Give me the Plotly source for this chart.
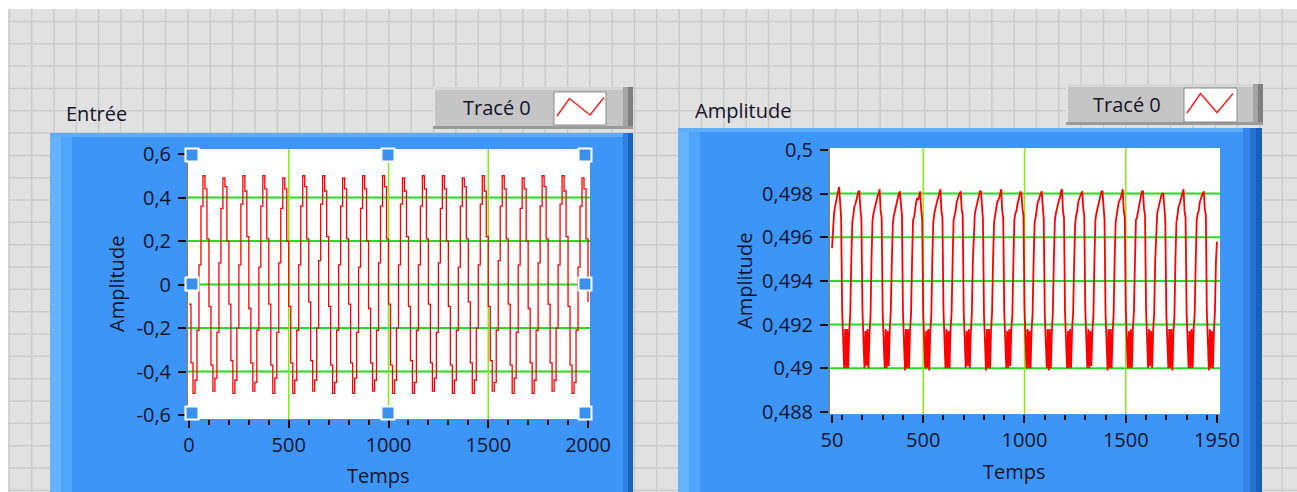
import plotly.graph_objects as go

# ---------------- DATA ----------------
# Left graph "Entrée": waveform samples (start, interval, values)
ENTREE_T0 = 0
ENTREE_DT = 10
entree_values = [
    -0.09, -0.36, -0.50, -0.44, -0.21, 0.09, 0.36, 0.50, 0.44, 0.21,
    -0.10, -0.37, -0.49, -0.43, -0.22, 0.10, 0.35, 0.49, 0.45, 0.20,
    -0.09, -0.35, -0.50, -0.44, -0.20, 0.09, 0.37, 0.50, 0.43, 0.22,
    -0.11, -0.36, -0.49, -0.45, -0.21, 0.08, 0.36, 0.50, 0.44, 0.21,
    -0.09, -0.37, -0.50, -0.43, -0.22, 0.10, 0.35, 0.49, 0.44, 0.20,
    -0.10, -0.36, -0.50, -0.44, -0.21, 0.09, 0.36, 0.50, 0.45, 0.21,
    -0.08, -0.35, -0.49, -0.44, -0.20, 0.11, 0.37, 0.50, 0.43, 0.22,
    -0.10, -0.37, -0.50, -0.45, -0.21, 0.09, 0.36, 0.49, 0.44, 0.21,
    -0.09, -0.36, -0.50, -0.43, -0.22, 0.08, 0.35, 0.50, 0.44, 0.20,
    -0.11, -0.36, -0.49, -0.44, -0.21, 0.10, 0.36, 0.50, 0.45, 0.21,
    -0.09, -0.37, -0.50, -0.44, -0.20, 0.09, 0.37, 0.49, 0.43, 0.22,
    -0.10, -0.35, -0.50, -0.45, -0.21, 0.09, 0.36, 0.50, 0.44, 0.21,
    -0.09, -0.36, -0.49, -0.43, -0.22, 0.10, 0.35, 0.50, 0.44, 0.20,
    -0.10, -0.37, -0.50, -0.44, -0.21, 0.08, 0.36, 0.49, 0.45, 0.21,
    -0.08, -0.36, -0.50, -0.44, -0.20, 0.09, 0.37, 0.50, 0.43, 0.22,
    -0.10, -0.35, -0.49, -0.45, -0.21, 0.11, 0.36, 0.50, 0.44, 0.21,
    -0.09, -0.37, -0.50, -0.43, -0.22, 0.09, 0.35, 0.49, 0.44, 0.20,
    -0.11, -0.36, -0.50, -0.44, -0.21, 0.10, 0.36, 0.50, 0.45, 0.21,
    -0.09, -0.36, -0.49, -0.44, -0.20, 0.09, 0.37, 0.50, 0.43, 0.22,
    -0.10, -0.37, -0.50, -0.45, -0.21, 0.08, 0.36, 0.49, 0.44, 0.21,
    -0.08,
]

# Right graph "Amplitude": waveform samples
AMP_T0 = 50
AMP_DT = 5
amplitude_values = [
    0.4955, 0.4967, 0.4971, 0.4974, 0.4977, 0.4980, 0.4981, 0.4983, 0.4972, 0.4969, 0.4926, 0.4911, 0.4900, 0.4918, 0.4900, 0.4918, 0.4900, 0.4917, 0.4925, 0.4949,
    0.4967, 0.4970, 0.4974, 0.4975, 0.4978, 0.4979, 0.4981, 0.4981, 0.4973, 0.4968, 0.4927, 0.4912, 0.4900, 0.4917, 0.4901, 0.4918, 0.4900, 0.4916, 0.4924, 0.4950,
    0.4968, 0.4971, 0.4973, 0.4976, 0.4977, 0.4979, 0.4980, 0.4982, 0.4972, 0.4969, 0.4925, 0.4910, 0.4900, 0.4918, 0.4900, 0.4917, 0.4901, 0.4918, 0.4926, 0.4948,
    0.4966, 0.4970, 0.4972, 0.4975, 0.4977, 0.4978, 0.4980, 0.4981, 0.4974, 0.4970, 0.4926, 0.4911, 0.4899, 0.4918, 0.4900, 0.4918, 0.4900, 0.4917, 0.4925, 0.4949,
    0.4968, 0.4969, 0.4973, 0.4976, 0.4978, 0.4977, 0.4979, 0.4981, 0.4973, 0.4968, 0.4925, 0.4912, 0.4900, 0.4917, 0.4900, 0.4918, 0.4899, 0.4917, 0.4924, 0.4950,
    0.4967, 0.4971, 0.4974, 0.4975, 0.4977, 0.4979, 0.4981, 0.4982, 0.4972, 0.4969, 0.4927, 0.4910, 0.4900, 0.4918, 0.4900, 0.4917, 0.4900, 0.4918, 0.4925, 0.4948,
    0.4968, 0.4970, 0.4972, 0.4976, 0.4978, 0.4979, 0.4980, 0.4981, 0.4973, 0.4970, 0.4926, 0.4911, 0.4900, 0.4917, 0.4901, 0.4918, 0.4900, 0.4916, 0.4925, 0.4949,
    0.4966, 0.4971, 0.4973, 0.4975, 0.4977, 0.4979, 0.4981, 0.4981, 0.4974, 0.4968, 0.4925, 0.4912, 0.4899, 0.4918, 0.4900, 0.4918, 0.4900, 0.4917, 0.4926, 0.4950,
    0.4967, 0.4970, 0.4974, 0.4976, 0.4977, 0.4978, 0.4980, 0.4982, 0.4972, 0.4969, 0.4926, 0.4910, 0.4900, 0.4917, 0.4900, 0.4918, 0.4901, 0.4918, 0.4924, 0.4948,
    0.4968, 0.4971, 0.4972, 0.4975, 0.4978, 0.4979, 0.4981, 0.4980, 0.4973, 0.4970, 0.4927, 0.4911, 0.4900, 0.4918, 0.4900, 0.4917, 0.4900, 0.4917, 0.4925, 0.4949,
    0.4967, 0.4969, 0.4973, 0.4976, 0.4977, 0.4979, 0.4980, 0.4981, 0.4974, 0.4968, 0.4925, 0.4912, 0.4900, 0.4918, 0.4899, 0.4918, 0.4900, 0.4916, 0.4926, 0.4950,
    0.4968, 0.4971, 0.4974, 0.4975, 0.4977, 0.4978, 0.4981, 0.4982, 0.4972, 0.4969, 0.4926, 0.4910, 0.4900, 0.4917, 0.4900, 0.4918, 0.4900, 0.4918, 0.4925, 0.4948,
    0.4966, 0.4970, 0.4972, 0.4976, 0.4978, 0.4979, 0.4980, 0.4981, 0.4973, 0.4970, 0.4927, 0.4911, 0.4900, 0.4918, 0.4900, 0.4917, 0.4901, 0.4917, 0.4924, 0.4949,
    0.4968, 0.4971, 0.4973, 0.4975, 0.4977, 0.4979, 0.4981, 0.4981, 0.4974, 0.4968, 0.4925, 0.4912, 0.4899, 0.4918, 0.4900, 0.4918, 0.4900, 0.4916, 0.4925, 0.4950,
    0.4967, 0.4970, 0.4974, 0.4976, 0.4977, 0.4978, 0.4980, 0.4982, 0.4972, 0.4969, 0.4926, 0.4910, 0.4900, 0.4917, 0.4900, 0.4918, 0.4900, 0.4918, 0.4926, 0.4948,
    0.4968, 0.4969, 0.4972, 0.4975, 0.4978, 0.4979, 0.4981, 0.4981, 0.4973, 0.4970, 0.4927, 0.4911, 0.4900, 0.4918, 0.4901, 0.4917, 0.4900, 0.4917, 0.4925, 0.4949,
    0.4966, 0.4971, 0.4973, 0.4976, 0.4977, 0.4979, 0.4980, 0.4980, 0.4974, 0.4968, 0.4925, 0.4912, 0.4900, 0.4918, 0.4900, 0.4918, 0.4899, 0.4916, 0.4924, 0.4950,
    0.4967, 0.4970, 0.4974, 0.4975, 0.4977, 0.4978, 0.4981, 0.4982, 0.4972, 0.4969, 0.4926, 0.4910, 0.4900, 0.4917, 0.4900, 0.4918, 0.4900, 0.4918, 0.4925, 0.4948,
    0.4968, 0.4971, 0.4972, 0.4976, 0.4978, 0.4979, 0.4980, 0.4981, 0.4973, 0.4970, 0.4926, 0.4911, 0.4899, 0.4918, 0.4900, 0.4917, 0.4900, 0.4917, 0.4926, 0.4949,
    0.4958,
]

# Tick values / labels
entree_xticks = [0, 500, 1000, 1500, 2000]
entree_xticklabels = ["0", "500", "1000", "1500", "2000"]
entree_xminor = [100, 200, 300, 400, 600, 700, 800, 900, 1100, 1200, 1300, 1400,
                 1600, 1700, 1800, 1900]
entree_yticks = [0.6, 0.4, 0.2, 0.0, -0.2, -0.4, -0.6]
entree_yticklabels = ["0,6", "0,4", "0,2", "0", "-0,2", "-0,4", "-0,6"]
entree_ygrid = [0.4, 0.2, 0.0, -0.2, -0.4]
entree_xgrid = [500, 1000, 1500]

amp_xticks = [50, 500, 1000, 1500, 1950]
amp_xticklabels = ["50", "500", "1000", "1500", "1950"]
amp_xminor = [100, 200, 300, 400, 600, 700, 800, 900, 1100, 1200, 1300, 1400,
              1600, 1700, 1800, 1900]
amp_yticks = [0.5, 0.498, 0.496, 0.494, 0.492, 0.49, 0.488]
amp_yticklabels = ["0,5", "0,498", "0,496", "0,494", "0,492", "0,49", "0,488"]
amp_ygrid = [0.498, 0.496, 0.494, 0.492, 0.49]
amp_xgrid = [500, 1000, 1500]

# ---------------- LAYOUT HELPERS ----------------
W, H = 1297, 492
FONT = "Open Sans"
TXT = "#14142a"


def fx(p):
    return p / W


def fy(p):
    return 1 - p / H


def prect(x0, y0, x1, y1, fill, layer="below", line=None):
    d = dict(type="rect", xref="paper", yref="paper", x0=fx(x0), x1=fx(x1),
             y0=fy(y1), y1=fy(y0), fillcolor=fill, layer=layer,
             line=dict(width=0) if line is None else line)
    return d


shapes = []
# white border of the screenshot
shapes.append(prect(0, 0, W, 9, "#ffffff"))
shapes.append(prect(0, 0, 8, H, "#ffffff"))
# front panel grid
gx = 9.3
while gx < W:
    shapes.append(dict(type="line", xref="paper", yref="paper", x0=fx(gx), x1=fx(gx),
                       y0=0, y1=fy(9), line=dict(color="#cbcbcb", width=1.5), layer="below"))
    gx += 22.33
gy = 21.4
while gy < H:
    shapes.append(dict(type="line", xref="paper", yref="paper", x0=fx(8), x1=1,
                       y0=fy(gy), y1=fy(gy), line=dict(color="#cbcbcb", width=1.5), layer="below"))
    gy += 22.33

# blue graph frames
BLUE = "#3d95f7"
# left
shapes.append(prect(50, 133, 633, H, BLUE))
shapes.append(prect(50, 133, 61, H, "#66b2fb"))
shapes.append(prect(61, 133, 72, H, "#51a5fa"))
shapes.append(prect(50, 133, 633, 137, "#5eadfa"))
shapes.append(prect(623, 133, 628, H, "#2c80e2"))
shapes.append(prect(628, 133, 633, H, "#1c63be"))
# right
shapes.append(prect(678, 128, 1262, H, BLUE))
shapes.append(prect(678, 128, 689, H, "#66b2fb"))
shapes.append(prect(689, 128, 700, H, "#51a5fa"))
shapes.append(prect(678, 128, 1262, 132, "#5eadfa"))
shapes.append(prect(1243, 128, 1250, H, "#3386e8"))
shapes.append(prect(1250, 128, 1256, H, "#2673d4"))
shapes.append(prect(1256, 128, 1262, H, "#1a5fb5"))

# white plot areas
shapes.append(prect(188, 149, 590, 419, "#ffffff"))
shapes.append(prect(830, 148, 1220, 414, "#ffffff"))


# legend boxes
def legend_box(x0, y0, x1, y1, sw):
    out = []
    out.append(prect(x0, y0, x1, y1, "#c5c5c5"))
    out.append(prect(x0, y0, x1, y0 + 3, "#d6d6d6"))
    out.append(prect(x0, y0, x0 + 2, y1, "#e2e2e2"))
    out.append(prect(x1 - 10, y0, x1 - 5, y1, "#a4a4a4"))
    out.append(prect(x1 - 5, y0, x1, y1, "#7e7e7e"))
    out.append(prect(x0, y1 - 3, x1, y1, "#9a9a9a"))
    sx0, sy0, sx1, sy1 = sw
    out.append(prect(sx0, sy0, sx1, sy1, "#ffffff", line=dict(color="#8a8a8a", width=1)))
    return out


shapes += legend_box(433, 87, 633, 129, (554, 92, 606, 125))
shapes += legend_box(1066, 84, 1263, 125, (1184, 88, 1237, 122))


def zig(points):
    path = "M " + " L ".join(f"{fx(a)},{fy(b)}" for a, b in points)
    return dict(type="path", xref="paper", yref="paper", path=path,
                line=dict(color="#ff2020", width=1.5), layer="below")


shapes.append(zig([(557, 116), (569.5, 98.5), (590, 115), (604, 97.5)]))
shapes.append(zig([(1187, 113), (1200.5, 93.5), (1217, 112.5), (1233, 93.5)]))

# green plot gridlines (data coordinates)
for v in entree_ygrid:
    shapes.append(dict(type="line", xref="x domain", yref="y", x0=0, x1=1, y0=v, y1=v,
                       line=dict(color="#22dd22", width=2), layer="below"))
for v in entree_xgrid:
    shapes.append(dict(type="line", xref="x", yref="y domain", x0=v, x1=v, y0=0, y1=1,
                       line=dict(color="#80ee10", width=1.5), layer="below"))
for v in amp_ygrid:
    shapes.append(dict(type="line", xref="x2 domain", yref="y2", x0=0, x1=1, y0=v, y1=v,
                       line=dict(color="#22dd22", width=2), layer="below"))
for v in amp_xgrid:
    shapes.append(dict(type="line", xref="x2", yref="y2 domain", x0=v, x1=v, y0=0, y1=1,
                       line=dict(color="#80ee10", width=1.5), layer="below"))

# selection handles (left graph)
for cx, cy in [(192, 155), (388, 155), (585, 155), (192, 284), (585, 284),
               (192, 413), (388, 413), (585, 413)]:
    shapes.append(prect(cx - 6.5, cy - 6.5, cx + 6.5, cy + 6.5, "#3a90ec", layer="above",
                        line=dict(color="#ffffff", width=2)))

# ---------------- FIGURE ----------------
fig = go.Figure()
fig.add_trace(go.Scatter(x0=ENTREE_T0, dx=ENTREE_DT, y=entree_values, mode="lines",
                         line=dict(color="#ff0000", width=1.3, shape="hv"),
                         xaxis="x", yaxis="y", showlegend=False, hoverinfo="skip"))
fig.add_trace(go.Scatter(x0=AMP_T0, dx=AMP_DT, y=amplitude_values, mode="lines",
                         line=dict(color="#ff0000", width=1.8),
                         xaxis="x2", yaxis="y2", showlegend=False, hoverinfo="skip"))

tickfont = dict(family=FONT, size=20, color=TXT)
common = dict(showgrid=False, zeroline=False, ticks="outside", tickcolor="#101010",
              tickwidth=1.5, tickfont=tickfont, fixedrange=True, tickmode="array",
              automargin=False)

fig.update_layout(
    width=W, height=H, autosize=False,
    margin=dict(l=0, r=0, t=0, b=0, pad=0, autoexpand=False),
    paper_bgcolor="#e1e1e1",
    plot_bgcolor="rgba(0,0,0,0)",
    showlegend=False,
    shapes=shapes,
    xaxis=dict(domain=[fx(188), fx(590)], range=[-5, 2010], anchor="y",
               tickvals=entree_xticks, ticktext=entree_xticklabels, ticklen=8,
               minor=dict(tickmode="array", tickvals=entree_xminor, ticks="outside",
                          ticklen=5, tickcolor="#101010", tickwidth=1.5),
               **common),
    yaxis=dict(domain=[fy(419), fy(149)], range=[-0.618, 0.623], anchor="x",
               tickvals=entree_yticks, ticktext=entree_yticklabels, ticklen=8,
               ticklabelstandoff=3,
               showline=True, linecolor="#71869b", linewidth=2, **common),
    xaxis2=dict(domain=[fx(830), fx(1220)], range=[40, 1965], anchor="y2",
                tickvals=amp_xticks, ticktext=amp_xticklabels, ticklen=8,
                minor=dict(tickmode="array", tickvals=amp_xminor, ticks="outside",
                           ticklen=5, tickcolor="#101010", tickwidth=1.5),
                **common),
    yaxis2=dict(domain=[fy(414), fy(148)], range=[0.48790, 0.50009], anchor="x2",
                tickvals=amp_yticks, ticktext=amp_yticklabels, ticklen=8,
                ticklabelstandoff=3,
                showline=True, linecolor="#71869b", linewidth=2, **common),
)


def ann(text, x, y, xa="left", angle=0):
    return dict(text=text, x=fx(x), y=fy(y), xref="paper", yref="paper",
                xanchor=xa, yanchor="middle", showarrow=False, textangle=angle,
                font=dict(family=FONT, size=20, color=TXT))


fig.update_layout(annotations=[
    ann("Entrée", 64, 114),
    ann("Amplitude", 693, 110),
    ann("Tracé 0", 461, 107),
    ann("Tracé 0", 1091, 104),
    ann("Temps", 378, 475, "center"),
    ann("Temps", 1014, 471, "center"),
    ann("Amplitude", 116, 284, "center", -90),
    ann("Amplitude", 744, 281, "center", -90),
])

fig.write_html(
    "out.html",
    config={"responsive": False, "displayModeBar": False},
    post_script="document.body.style.margin='0px';"
                "document.documentElement.style.overflow='hidden';"
                "document.body.style.overflow='hidden';",
)
